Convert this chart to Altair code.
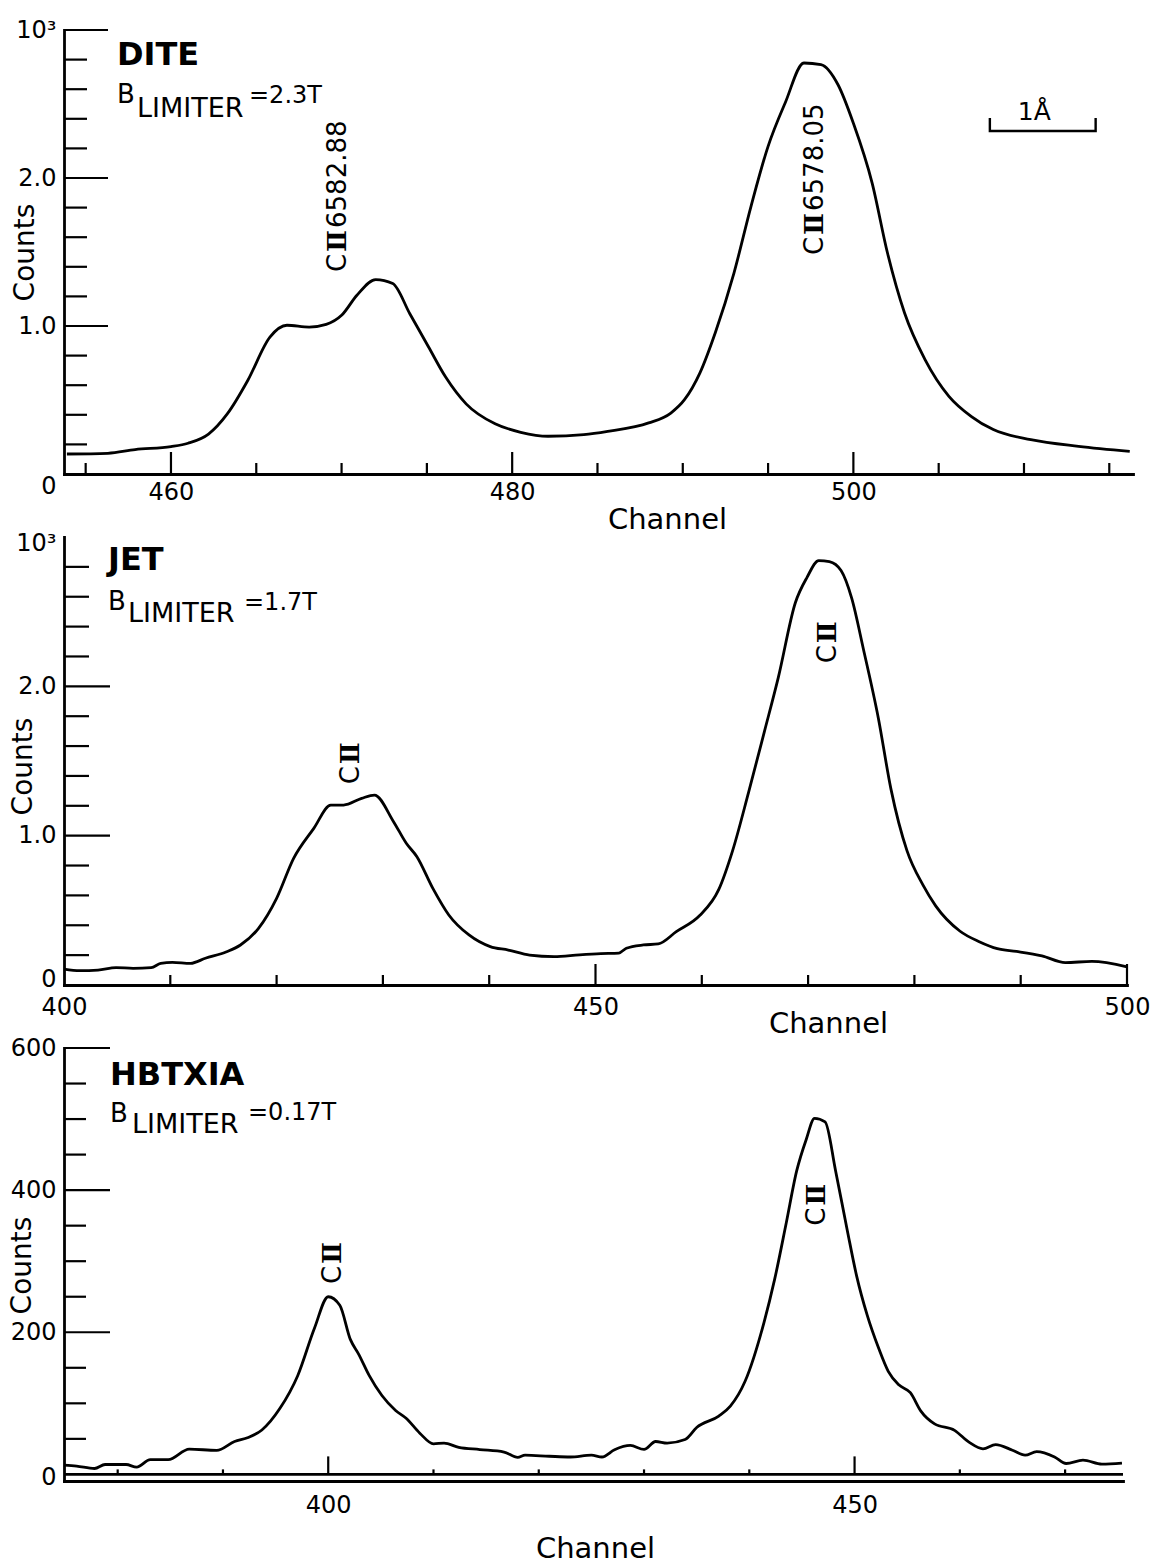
import altair as alt
import pandas as pd

FONT = "DejaVu Sans"
NUMERAL_FONT = "DejaVu Serif"
INK = "#000000"

# ---------------- DITE, B_limiter = 2.3 T (counts in units of 10^3) ----------------
dite_channel = [453.9, 456.3, 457.9, 460.0, 461.0, 462.2, 463.3, 464.5, 465.8, 466.8,
                468.1, 469.1, 470.0, 470.9, 472.0, 473.0, 474.0, 475.1, 476.1, 477.3,
                479.0, 480.5, 482.1, 484.2, 485.6, 488.0, 489.3, 490.1, 491.0, 491.9,
                493.0, 494.0, 495.0, 496.0, 497.1, 498.1, 499.1, 500.0, 501.1, 502.0,
                503.0, 504.2, 505.6, 506.9, 508.2, 510.4, 513.2, 516.2]
dite_counts = [0.135, 0.140, 0.165, 0.185, 0.208, 0.270, 0.406, 0.632, 0.925, 1.005,
               0.993, 1.011, 1.072, 1.208, 1.314, 1.287, 1.083, 0.858, 0.655, 0.474,
               0.339, 0.282, 0.255, 0.266, 0.288, 0.345, 0.412, 0.502, 0.682, 0.953,
               1.358, 1.809, 2.214, 2.507, 2.777, 2.766, 2.630, 2.370, 1.966, 1.493,
               1.088, 0.773, 0.525, 0.390, 0.300, 0.232, 0.187, 0.153]

# ---------------- JET, B_limiter = 1.7 T (counts in units of 10^3) ----------------
jet_channel = [400.0, 401.5, 403.2, 404.9, 406.5, 408.2, 409.1, 410.2, 411.9, 413.3,
               415.3, 416.6, 418.3, 420.0, 421.6, 423.5, 425.1, 426.3, 428.0, 429.2,
               431.0, 432.2, 433.2, 434.7, 436.2, 438.1, 440.1, 441.8, 443.8, 446.1,
               448.5, 450.5, 452.2, 452.9, 454.5, 455.9, 457.6, 459.8, 461.6, 462.9,
               464.4, 465.9, 467.2, 468.8, 469.9, 471.0, 472.0, 473.1, 474.1, 475.2,
               476.6, 477.8, 479.3, 480.8, 482.0, 484.3, 486.1, 487.8, 489.6, 492.0,
               494.2, 496.7, 500.0]
jet_counts = [0.107, 0.096, 0.100, 0.116, 0.112, 0.116, 0.145, 0.152, 0.145, 0.179,
              0.223, 0.268, 0.379, 0.580, 0.848, 1.049, 1.205, 1.205, 1.250, 1.272,
              1.094, 0.949, 0.859, 0.647, 0.469, 0.335, 0.257, 0.234, 0.200, 0.190,
              0.202, 0.210, 0.214, 0.246, 0.268, 0.275, 0.357, 0.465, 0.640, 0.900,
              1.290, 1.700, 2.060, 2.560, 2.730, 2.842, 2.835, 2.775, 2.590, 2.250,
              1.790, 1.310, 0.900, 0.670, 0.530, 0.360, 0.290, 0.243, 0.225, 0.195,
              0.150, 0.158, 0.122]

# ---------------- HBTXIA, B_limiter = 0.17 T (counts) ----------------
hbt_channel = [374.9, 376.1, 377.8, 378.8, 380.8, 381.8, 383.1, 384.8, 386.8, 389.4,
               391.1, 392.4, 393.7, 395.4, 397.1, 398.7, 400.0, 401.1, 402.1, 402.9,
               403.9, 405.1, 406.4, 407.4, 408.7, 410.0, 411.0, 412.4, 414.4, 416.7,
               418.0, 418.7, 421.0, 423.0, 425.0, 426.0, 427.2, 428.7, 430.0, 431.1,
               432.2, 433.9, 435.0, 437.1, 438.2, 439.6, 441.4, 442.4, 443.5, 444.5,
               445.4, 446.2, 447.2, 448.2, 449.3, 450.2, 451.2, 452.3, 453.2, 454.2,
               455.3, 456.3, 457.6, 459.5, 460.9, 462.2, 463.4, 465.0, 466.2, 467.3,
               469.0, 470.1, 471.7, 473.5, 475.4]
hbt_counts = [13, 11.6, 8.3, 13.9, 13.9, 10.2, 20.8, 20.8, 35.6, 33.8,
              46.3, 51.9, 62.5, 92.6, 138.9, 206, 250, 238, 190, 169,
              139, 111, 90, 79, 58, 43, 44, 38, 35, 31.5,
              24, 27, 25.5, 24.5, 27, 24.5, 34.7, 40.7, 35.2, 46.3,
              44, 49, 66, 82, 96, 131, 214, 274, 353, 427,
              471, 501, 496, 427, 344, 279, 224, 177, 145, 126,
              115, 89, 71, 62, 45, 36, 42, 34, 27, 32,
              24.5, 15.3, 20, 14.4, 16]

# ---------------- line identifications (anchor = start of the upright label) ----------------
dite_peak_channel = [469.8, 497.75]
dite_peak_counts = [1.365, 1.480]
dite_peak_wavelength = ["6582.88", "6578.05"]

jet_peak_channel = [427.0, 471.9]
jet_peak_counts = [1.345, 2.155]

hbt_peak_channel = [400.5, 446.4]
hbt_peak_counts = [268, 350]

# 1 Angstrom dispersion bar on the DITE spectrum
bar_channel = [508.0, 508.0, 514.2, 514.2]
bar_counts = [2.405, 2.318, 2.318, 2.405]
bar_text_channel = [510.6]
bar_text_counts = [2.39]

# ---------------- axes ----------------
dite_xdom, dite_ydom = [453.73, 516.39], [0.0, 3.0]
jet_xdom, jet_ydom = [400.0, 500.0], [0.0, 3.0]
hbt_xdom, hbt_ydom = [374.9, 475.5], [-9.3, 600.0]

dite_xticks = [455, 460, 465, 470, 475, 480, 485, 490, 495, 500, 505, 510, 515]
dite_xmajor = [460, 480, 500]
dite_yticks = [0.2, 0.4, 0.6, 0.8, 1.0, 1.2, 1.4, 1.6, 1.8, 2.0, 2.2, 2.4, 2.6, 2.8, 3.0]
dite_ymajor = [1.0, 2.0, 3.0]

jet_xticks = [410, 420, 430, 440, 450, 460, 470, 480, 490, 500]
jet_xmajor = [450, 500]
jet_yticks = [0.2, 0.4, 0.6, 0.8, 1.0, 1.2, 1.4, 1.6, 1.8, 2.0, 2.2, 2.4, 2.6, 2.8]
jet_ymajor = [1.0, 2.0]

hbt_xticks = [380, 390, 400, 410, 420, 430, 440, 450, 460, 470]
hbt_xmajor = [400, 450]
hbt_yticks = [50, 100, 150, 200, 250, 300, 350, 400, 450, 500, 550, 600]
hbt_ymajor = [200, 400, 600]

ONE = pd.DataFrame({"k": [0]})


def xtick_frame(values, majors, major_px, minor_px, ydom, h):
    per_px = (ydom[1] - ydom[0]) / h
    return pd.DataFrame({
        "channel": values,
        "y0": [0.0] * len(values),
        "y1": [(major_px if v in majors else minor_px) * per_px for v in values],
    })


def ytick_frame(values, majors, major_px, minor_px, xdom, w):
    per_px = (xdom[1] - xdom[0]) / w
    return pd.DataFrame({
        "counts": values,
        "x0": [xdom[0]] * len(values),
        "x1": [xdom[0] + (major_px if v in majors else minor_px) * per_px for v in values],
    })


def header(text, x, y, size, weight="normal"):
    return alt.Chart(ONE).mark_text(
        text=text, font=FONT, fontSize=size, fontWeight=weight, color=INK,
        align="left", baseline="alphabetic",
    ).encode(x=alt.value(x), y=alt.value(y))


def peak_labels(X, Y, channel, counts, wavelength=None):
    """Upright 'C II' (+ wavelength) labels, written bottom-to-top from the anchor."""
    df = pd.DataFrame({"channel": channel, "counts": counts})
    common = dict(angle=270, color=INK, align="left", baseline="middle")
    parts = [
        alt.Chart(df).mark_text(text="C", font=FONT, fontSize=26, dx=0, **common),
        alt.Chart(df).mark_text(text="\u2161", font=NUMERAL_FONT, fontSize=26,
                                fontWeight="bold", dx=20, **common),
    ]
    if wavelength:
        df = df.assign(wl=wavelength)
        parts.append(alt.Chart(df).mark_text(font=FONT, fontSize=26, dx=44, **common)
                     .encode(text="wl:N"))
    return [p.encode(x=X("channel"), y=Y("counts")) for p in parts]


def panel(channel, counts, xdom, ydom, w, h, xaxis, yaxis,
          xt, yt, peaks, headers, extra=None):
    xs = alt.Scale(domain=xdom, nice=False, zero=False)
    ys = alt.Scale(domain=ydom, nice=False, zero=False)

    def X(f):
        return alt.X(f, type="quantitative", scale=xs, axis=xaxis)

    def Y(f):
        return alt.Y(f, type="quantitative", scale=ys, axis=yaxis)

    curve = alt.Chart(pd.DataFrame({"channel": channel, "counts": counts})).mark_line(
        color=INK, strokeWidth=2.8, strokeJoin="round", interpolate="monotone"
    ).encode(x=X("channel"), y=Y("counts"))
    xticks = alt.Chart(xt).mark_rule(color=INK, strokeWidth=2.2).encode(
        x=X("channel"), y=Y("y0"), y2="y1"
    )
    yticks = alt.Chart(yt).mark_rule(color=INK, strokeWidth=2.2).encode(
        y=Y("counts"), x=X("x0"), x2="x1"
    )
    layers = [curve, xticks, yticks] + peaks(X, Y) + headers
    if extra:
        layers += [e(X, Y) for e in extra]
    return alt.layer(*layers).properties(width=w, height=h)


def x_axis(values, pad, tx, ty):
    return alt.Axis(values=values, format="d", labelPadding=pad, labelBaseline="top",
                    title="Channel", titleX=tx, titleY=ty, titleBaseline="middle",
                    titleAlign="center", titleFontSize=29)


def y_axis(values, expr, tx, ty, zero_shift, top_shift=0):
    return alt.Axis(
        values=values, labelExpr=expr, labelPadding=8,
        labelOffset={"condition": [{"test": "datum.value == 0", "value": zero_shift},
                                   {"test": f"datum.value == {values[-1]}", "value": top_shift}],
                     "value": 0},
        title="Counts", titleX=tx, titleY=ty, titleAngle=270,
        titleBaseline="middle", titleAlign="center", titleFontSize=28,
    )


EXPR_E3 = "datum.value == 3 ? '10\u00b3' : (datum.value == 0 ? '0' : format(datum.value, '.1f'))"


def scale_bar(X, Y):
    bar = alt.Chart(pd.DataFrame({"channel": bar_channel, "counts": bar_counts,
                                  "i": [0, 1, 2, 3]})).mark_line(
        color=INK, strokeWidth=2.4).encode(x=X("channel"), y=Y("counts"), order="i:Q")
    txt = alt.Chart(pd.DataFrame({"channel": bar_text_channel, "counts": bar_text_counts})
                    ).mark_text(text="1\u00c5", font=FONT, fontSize=25, color=INK,
                                align="center", baseline="alphabetic").encode(
        x=X("channel"), y=Y("counts"))
    return alt.layer(bar, txt)


def page_anchor(X, Y):
    return alt.Chart(ONE).mark_rule(opacity=0, strokeWidth=1).encode(
        x=alt.value(-64), x2=alt.value(-63), y=alt.value(-30), y2=alt.value(-29))


# ---------------- DITE panel ----------------
W1, H1 = 1069, 444
p1 = panel(
    dite_channel, dite_counts, dite_xdom, dite_ydom, W1, H1,
    x_axis([460, 480, 500], 6, 603, 45),
    y_axis([0, 1, 2, 3], EXPR_E3, -39, 222, 12, 0),
    xtick_frame(dite_xticks, dite_xmajor, 22, 11, dite_ydom, H1),
    ytick_frame(dite_yticks, dite_ymajor, 44, 23, dite_xdom, W1),
    lambda X, Y: peak_labels(X, Y, dite_peak_channel, dite_peak_counts, dite_peak_wavelength),
    [header("DITE", 53, 35, 32, "bold"),
     header("B", 53, 73, 26),
     header("LIMITER", 73, 87, 27),
     header("=2.3T", 185, 73, 24)],
    extra=[scale_bar, page_anchor],
)

# ---------------- JET panel ----------------
W2, H2 = 1063, 448
p2 = panel(
    jet_channel, jet_counts, jet_xdom, jet_ydom, W2, H2,
    x_axis([400, 450, 500], 10, 764, 38),
    y_axis([0, 1, 2, 3], EXPR_E3, -41, 229, -6, 6),
    xtick_frame(jet_xticks, jet_xmajor, 21, 10, jet_ydom, H2),
    ytick_frame(jet_yticks, jet_ymajor, 46, 25, jet_xdom, W2),
    lambda X, Y: peak_labels(X, Y, jet_peak_channel, jet_peak_counts),
    [header("JET", 44, 33, 32, "bold"),
     header("B", 44, 73, 26),
     header("LIMITER", 64, 85, 27),
     header("=1.7T", 180, 73, 24)],
)

# ---------------- HBTXIA panel ----------------
W3, H3 = 1059, 433


def zero_line(X, Y):
    return alt.Chart(pd.DataFrame({"a": [hbt_xdom[0]], "b": [hbt_xdom[1]], "c": [0.0]})
                     ).mark_rule(color=INK, strokeWidth=2.6).encode(
        x=X("a"), x2="b", y=Y("c"))


p3 = panel(
    hbt_channel, hbt_counts, hbt_xdom, hbt_ydom, W3, H3,
    x_axis([400, 450], 12, 531, 67),
    y_axis([0, 200, 400, 600], "format(datum.value, 'd')", -42, 217, 3, 0),
    xtick_frame(hbt_xticks, hbt_xmajor, 18, 5, hbt_ydom, H3),
    ytick_frame(hbt_yticks, hbt_ymajor, 46, 22, hbt_xdom, W3),
    lambda X, Y: peak_labels(X, Y, hbt_peak_channel, hbt_peak_counts),
    [header("HBTXIA", 46, 37, 32, "bold"),
     header("B", 46, 74, 26),
     header("LIMITER", 68, 85, 27),
     header("=0.17T", 184, 72, 24)],
    extra=[zero_line],
)

chart = alt.vconcat(p1, p2, p3, spacing=63, bounds="flush").properties(
    padding=0, background="white"
).configure_view(stroke=None).configure_axis(
    grid=False, ticks=False, tickSize=0,
    domain=True, domainColor=INK, domainWidth=2.8, domainCap="square",
    labelFont=FONT, labelFontSize=24, labelColor=INK, labelFlush=False, labelOverlap=False,
    titleFont=FONT, titleFontWeight="normal", titleColor=INK,
)

chart.save("out.html", embed_options={"renderer": "svg", "actions": False})
